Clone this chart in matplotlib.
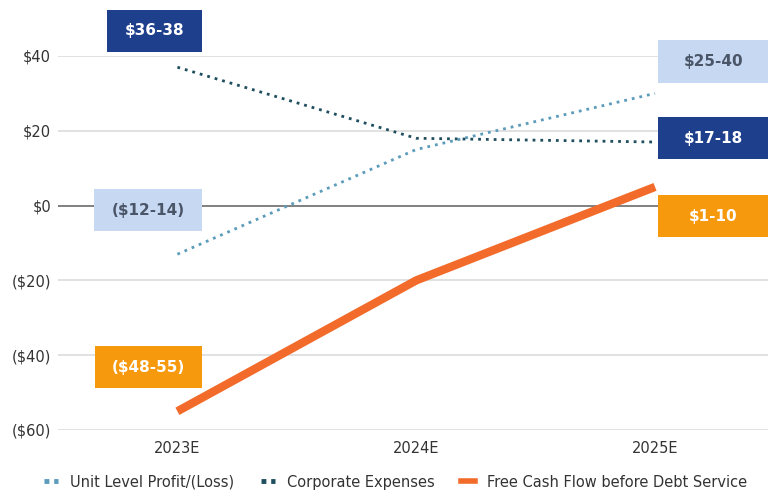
import numpy as np
import matplotlib
matplotlib.use('Agg')
import matplotlib.pyplot as plt
from matplotlib.patches import Rectangle
from matplotlib.lines import Line2D

years = ['2023E', '2024E', '2025E']
unit_level = [-13, 15, 30]
corporate = [37, 18, 17]
fcf = [-55, -20, 5]

yticks = [40, 20, 0, -20, -40, -60]
ytick_labels = ['$40', '$20', '$0', '($20)', '($40)', '($60)']

# range labels: (text, value of box centre, style)
left_labels = [('$36-38', 46.7, 'dark'), ('($12-14)', -1.2, 'light'), ('($48-55)', -43.2, 'orange')]
right_labels = [('$25-40', 38.5, 'light'), ('$17-18', 18.0, 'dark'), ('$1-10', -2.8, 'orange')]

ftsize = 10.5
c_unit = '#5b9bbb'
c_corp = '#1f4e5f'
c_fcf = '#f26b2a'
styles = {'dark': ('#1e3f8c', 'white'),
          'light': ('#c6d8f2', '#4b5568'),
          'orange': ('#f7990c', 'white')}

fig = plt.figure(figsize=(7.68, 4.98), dpi=100)
ax = fig.add_axes([58/768, 1-430/498, 1-58/768, (430-56)/498])

x = np.arange(len(years))

for yv in yticks:
    if yv == 0:
        ax.axhline(0, color='#6b6b6b', lw=1.2, zorder=1)
    else:
        ax.axhline(yv, color='#dcdcdc', lw=1.2, zorder=1)

ax.plot(x, unit_level, color=c_unit, lw=2, ls=(0, (1, 1.8)), zorder=3)
ax.plot(x, corporate, color=c_corp, lw=2, ls=(0, (1, 1.8)), zorder=3)
ax.plot(x, fcf, color=c_fcf, lw=6, solid_capstyle='butt', zorder=4)

ax.set_xlim(-0.5, 2.473)
ax.set_ylim(-60, 40)
ax.set_xticks(x)
ax.set_xticklabels(years, fontsize=ftsize, color='#333333')
ax.set_yticks(yticks)
ax.set_yticklabels(ytick_labels, fontsize=ftsize, color='#333333')
ax.tick_params(length=0, pad=5)
ax.tick_params(axis='x', pad=8)
for s in ax.spines.values():
    s.set_visible(False)

# value boxes
def box(xc, yc, w, h, txt, style):
    fc, tc = styles[style]
    ax.add_patch(Rectangle((xc - w/2, yc - h/2), w, h, facecolor=fc, edgecolor='none',
                           clip_on=False, zorder=5))
    ax.text(xc, yc, txt, ha='center', va='center', fontsize=11, color=tc,
            fontweight='bold', zorder=6, clip_on=False)

bh = 11.3
left_w = {'dark': 0.40, 'light': 0.456, 'orange': 0.452}
left_x = {'dark': -0.096, 'light': -0.123, 'orange': -0.121}
for txt, yc, st in left_labels:
    box(left_x[st], yc, left_w[st], bh, txt, st)
for txt, yc, st in right_labels:
    box(2.243, yc, 0.46, bh, txt, st)

handles = [Line2D([], [], color=c_unit, lw=3.5, ls=(0, (1, 1))),
           Line2D([], [], color=c_corp, lw=3.5, ls=(0, (1, 1))),
           Line2D([], [], color=c_fcf, lw=4)]
leg = fig.legend(handles, ['Unit Level Profit/(Loss)', 'Corporate Expenses',
                           'Free Cash Flow before Debt Service'],
                 loc='center', bbox_to_anchor=(0.515, 1-482/498), ncol=3, frameon=False,
                 fontsize=ftsize, handlelength=1.0, columnspacing=1.8, handletextpad=0.8)
for t in leg.get_texts():
    t.set_color('#333333')

plt.savefig('out.png', dpi=100)
